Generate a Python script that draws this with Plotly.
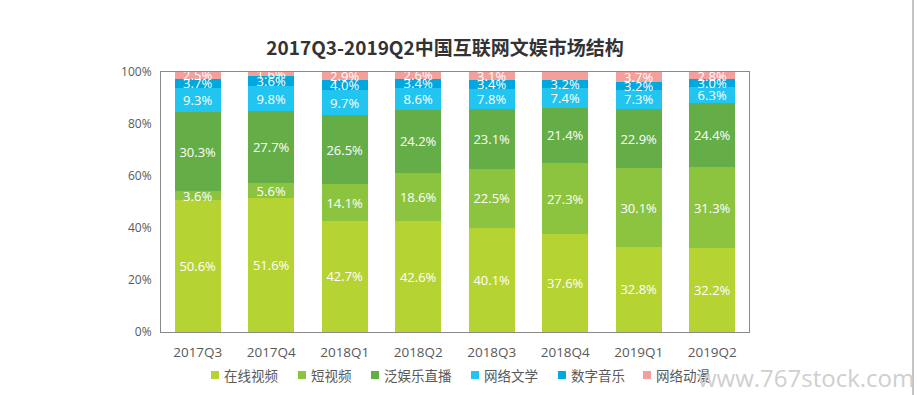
import plotly.graph_objects as go

categories = ["2017Q3", "2017Q4", "2018Q1", "2018Q2", "2018Q3", "2018Q4", "2019Q1", "2019Q2"]
online_video = [50.6, 51.6, 42.7, 42.6, 40.1, 37.6, 32.8, 32.2]
short_video = [3.6, 5.6, 14.1, 18.6, 22.5, 27.3, 30.1, 31.3]
live_stream = [30.3, 27.7, 26.5, 24.2, 23.1, 21.4, 22.9, 24.4]
web_literature = [9.3, 9.8, 9.7, 8.6, 7.8, 7.4, 7.3, 6.3]
digital_music = [3.7, 3.6, 4.0, 3.4, 3.4, 3.2, 3.2, 3.0]
web_anime = [2.5, 1.6, 2.9, 2.6, 3.1, 3.1, 3.7, 2.8]

series_names = ["在线视频", "短视频", "泛娱乐直播", "网络文学", "数字音乐", "网络动漫"]
series_values = [online_video, short_video, live_stream, web_literature, digital_music, web_anime]
series_colors = ["#b6d334", "#8cc43f", "#64ad47", "#22c5f0", "#00a8e0", "#f3a09d"]

font_family = "Open Sans, Noto Sans CJK SC, sans-serif"
cjk_font = "Noto Sans CJK SC, sans-serif"

# plot area in pixels
L, R, T, B = 161, 749, 72, 332
W, H = 919, 395

def px_x(px):
    return (px - L) / (R - L)

def px_y(py):
    return (B - py) / (B - T)

fig = go.Figure()
for name, vals, color in zip(series_names, series_values, series_colors):
    fig.add_trace(go.Bar(
        x=categories, y=vals, name=name,
        marker=dict(color=color, line=dict(width=0)),
        text=[f"{v:.1f}%" for v in vals],
        textposition="inside", insidetextanchor="middle",
        textfont=dict(color="white", size=13, family=font_family),
        cliponaxis=False,
        hoverinfo="skip",
        showlegend=False,
    ))

fig.update_layout(
    barmode="stack",
    bargap=0.37,
    width=W, height=H,
    margin=dict(l=L, r=W - R, t=T, b=H - B, autoexpand=False),
    paper_bgcolor="white", plot_bgcolor="white",
    uniformtext=dict(minsize=13, mode="show"),
    title=dict(
        text="<b>2017Q3-2019Q2中国互联网文娱市场结构</b>",
        x=445 / W, xanchor="center", y=1 - 48 / H, yanchor="middle",
        font=dict(size=19, color="#333333", family=cjk_font),
    ),
    showlegend=False,
    font=dict(family=font_family, color="#595959"),
    xaxis=dict(
        showline=True, linecolor="#898989", linewidth=1, mirror=True,
        ticks="", tickfont=dict(size=13.5, color="#595959"),
        ticklabelstandoff=8,
        range=[-0.5, 7.5],
    ),
    yaxis=dict(
        range=[0, 100], tickvals=[0, 20, 40, 60, 80, 100],
        ticktext=["0%", "20%", "40%", "60%", "80%", "100%"],
        showgrid=False, zeroline=False,
        showline=True, linecolor="#898989", linewidth=1, mirror=True,
        tickfont=dict(size=12, color="#595959"), ticks="",
        ticklabelstandoff=6,
    ),
)

# custom legend (compact, like the reference)
legend_marker_px = [211, 298, 371, 471, 558, 643]
legend_y = 375
for name, color, mx in zip(series_names, series_colors, legend_marker_px):
    fig.add_shape(type="rect", xref="paper", yref="paper",
                  x0=px_x(mx), x1=px_x(mx + 8),
                  y0=px_y(legend_y + 4), y1=px_y(legend_y - 4),
                  fillcolor=color, line=dict(width=0))
    fig.add_annotation(text=name, xref="paper", yref="paper",
                       x=px_x(mx + 11), xanchor="left", y=px_y(legend_y), yanchor="middle",
                       showarrow=False,
                       font=dict(size=13.5, color="#595959", family=cjk_font))

# page border line at right and watermark
fig.add_shape(type="line", xref="paper", yref="paper",
              x0=px_x(913), x1=px_x(913), y0=px_y(H), y1=px_y(0),
              line=dict(color="#888888", width=1))
fig.add_annotation(text="www.767stock.com", xref="paper", yref="paper",
                   x=px_x(916), xanchor="right", y=px_y(377), yanchor="middle",
                   showarrow=False,
                   font=dict(size=24, color="#cfcfcf", family="Open Sans, sans-serif"))

fig.write_html(
    "out.html",
    config={"displayModeBar": False},
    post_script="document.body.style.margin='0';document.body.style.overflow='hidden';",
)
